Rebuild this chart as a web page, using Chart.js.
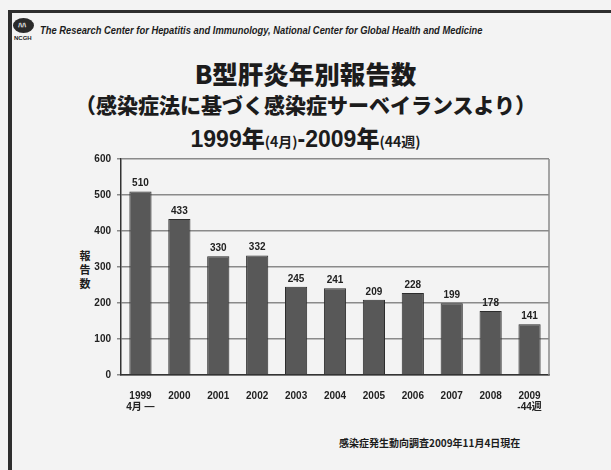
<!DOCTYPE html>
<html lang="ja">
<head>
<meta charset="utf-8">
<script src="https://cdn.jsdelivr.net/npm/chart.js@4.4.1/dist/chart.umd.min.js"></script>
<style>
  html, body { margin: 0; padding: 0; overflow: hidden; }
  body { width: 611px; height: 470px; position: relative; background: #f3f3f3; font-family: "Noto Sans CJK JP", "Liberation Sans", sans-serif; color: #1c1c1c; }
  .marco { position: absolute; left: 8px; top: 10px; width: 603px; height: 460px; border-top: 3px solid #2e2e2e; border-left: 4px solid #2e2e2e; box-sizing: border-box; }
  .logo { position: absolute; left: 13px; top: 18px; width: 21px; height: 15px; border-radius: 50%; background: #2a2a2a; }
  .logo span { position: absolute; left: 5px; top: 3px; color: #ddd; font: bold 8px "Liberation Sans"; }
  .ncgh { position: absolute; left: 14px; top: 35px; font: bold 6px "Liberation Sans"; color: #222; }
  .cabecera { position: absolute; left: 40px; top: 25px; font: italic bold 10px "Liberation Sans Narrow", "Liberation Sans", sans-serif; white-space: nowrap; transform-origin: left top; }
  .titulo { position: absolute; left: 0; width: 611px; text-align: center; font-weight: 900; white-space: nowrap; }
  .t1 { top: 54px; font-size: 25.5px; }
  .t2 { top: 89px; font-size: 21px; }
  .t3 { top: 120px; font-size: 23px; font-family: "Liberation Sans", "Noto Sans CJK JP", sans-serif; font-weight: bold; }
  .t3 small { font-size: 14px; font-family: "Noto Sans CJK JP"; }
  .t3 .k { font-family: "Noto Sans CJK JP"; font-weight: 900; }
  .ejeY { position: absolute; left: 79px; top: 248px; width: 12px; font: bold 11px/14px "Noto Sans CJK JP"; text-align: center; }
  .fuente { position: absolute; left: 339px; top: 435px; font: bold 10px "Noto Sans CJK JP"; white-space: nowrap; }
  #grafico { position: absolute; left: 0; top: 0; }
</style>
</head>
<body>
<div class="marco"></div>
<div class="logo"><span>ﾊﾊ</span></div>
<div class="ncgh">NCGH</div>
<div class="cabecera" id="cabecera">The Research Center for Hepatitis and Immunology, National Center for Global Health and Medicine</div>
<div class="titulo t1">B型肝炎年別報告数</div>
<div class="titulo t2">（感染症法に基づく感染症サーベイランスより）</div>
<div class="titulo t3">1999<span class="k">年</span><small>(4月)</small>-2009<span class="k">年</span><small>(44週)</small></div>
<div class="ejeY">報<br>告<br>数</div>
<div class="fuente">感染症発生動向調査2009年11月4日現在</div>
<canvas id="grafico" width="611" height="470"></canvas>
<script>
// años y segunda línea de la etiqueta (solo el primero y el último)
const anios = ["1999", "2000", "2001", "2002", "2003", "2004", "2005", "2006", "2007", "2008", "2009"];
const notas = ["4月 —", "", "", "", "", "", "", "", "", "", "-44週"];
// número de reportes por año
const reportes = [510, 433, 330, 332, 245, 241, 209, 228, 199, 178, 141];
// eje Y
const ejeMin = 0;
const ejeMax = 600;
const ejePaso = 100;

// ajustamos el ancho de la cabecera para que quede en una línea
const cab = document.querySelector("#cabecera");
cab.style.transform = "scaleX(" + (443 / cab.offsetWidth) + ")";

const etiquetas = anios.map((a, i) => notas[i] ? [a, notas[i]] : a);

// escribe el valor encima de cada barra
const valoresArriba = {
    id: "valoresArriba",
    afterDatasetsDraw(chart) {
        const ctx = chart.ctx;
        const meta = chart.getDatasetMeta(0);
        ctx.save();
        ctx.font = "bold 10px 'Liberation Sans'";
        ctx.fillStyle = "#222";
        ctx.textAlign = "center";
        ctx.textBaseline = "bottom";
        meta.data.forEach((barra, i) => {
            ctx.fillText(reportes[i], barra.x, barra.y - 3);
        });
        ctx.restore();
    }
};

// marco derecho del área del gráfico
const bordeDerecho = {
    id: "bordeDerecho",
    beforeDatasetsDraw(chart) {
        const { ctx, chartArea } = chart;
        ctx.save();
        ctx.strokeStyle = "#8a8a8a";
        ctx.lineWidth = 1.5;
        ctx.beginPath();
        ctx.moveTo(chartArea.right, chartArea.top);
        ctx.lineTo(chartArea.right, chartArea.bottom);
        ctx.stroke();
        ctx.restore();
    }
};

const ctx = document.querySelector("#grafico").getContext("2d");
new Chart(ctx, {
    type: "bar",
    data: {
        labels: etiquetas,
        datasets: [{
            data: reportes,
            backgroundColor: "#585858",
            borderColor: "#2c2c2c",
            borderWidth: 1,
            categoryPercentage: 1,
            barPercentage: 0.57
        }]
    },
    options: {
        responsive: false,
        animation: false,
        devicePixelRatio: 1,
        layout: { padding: { left: 71, right: 62, top: 159, bottom: 52 } },
        plugins: {
            legend: { display: false },
            tooltip: { enabled: false }
        },
        scales: {
            x: {
                grid: { display: false },
                border: { color: "#333", width: 1.5 },
                ticks: {
                    color: "#222",
                    font: { family: "'Liberation Sans', 'Noto Sans CJK JP'", size: 10, weight: "bold", lineHeight: 1.05 },
                    padding: 8,
                    maxRotation: 0,
                    autoSkip: false
                },
                afterFit(scale) { scale.height = 43; }
            },
            y: {
                min: ejeMin,
                max: ejeMax,
                ticks: {
                    stepSize: ejePaso,
                    color: "#222",
                    font: { family: "'Liberation Sans'", size: 10, weight: "bold" },
                    padding: 6
                },
                grid: { color: "#8a8a8a", lineWidth: 1.5, tickLength: 4 },
                border: { color: "#333", width: 1.5 },
                afterFit(scale) { scale.width = 50; }
            }
        }
    },
    plugins: [valoresArriba, bordeDerecho]
});
</script>
</body>
</html>
